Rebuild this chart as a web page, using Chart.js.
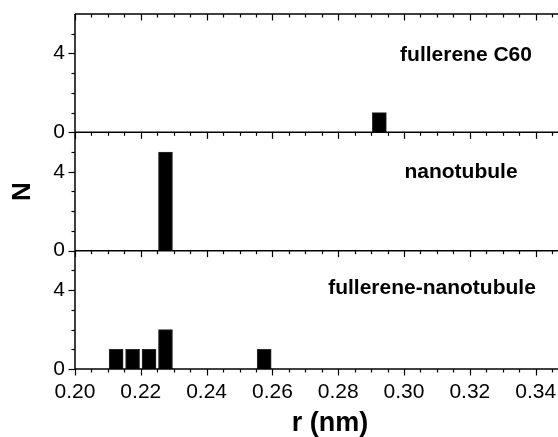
<!DOCTYPE html>
<html>
<head>
<meta charset="utf-8">
<script src="https://cdn.jsdelivr.net/npm/chart.js@4/dist/chart.umd.min.js"></script>
<style>
  html, body { margin: 0; padding: 0; background: #fff; overflow: hidden; }
</style>
</head>
<body>
<canvas id="hist" width="600" height="437"></canvas>
<script>
// bin centres (nm) and counts N, one list per panel
const c60R = [0.2925];
const c60N = [1];
const tubeR = [0.2275];
const tubeN = [5];
const mixR = [0.2125, 0.2175, 0.2225, 0.2275, 0.2575];
const mixN = [1, 1, 1, 2, 1];

const panelLabels = ['fullerene C60', 'nanotubule', 'fullerene-nanotubule'];
const xTicks = [0.20, 0.22, 0.24, 0.26, 0.28, 0.30, 0.32, 0.34];
const yTicks = [0, 4];
const yMinor = [1, 2, 3, 5];

const toPoints = (xs, ys) => xs.map((x, i) => ({ x: x, y: ys[i] }));

// label placement inside each panel: centre x (px), offset below panel top (px)
const labelPos = [[466, 41], [461, 40], [432, 38]];

const font = 'Liberation Sans, Arial, sans-serif';

const panelTicks = {
    id: 'panelTicks',
    afterDraw(chart) {
        const ctx = chart.ctx;
        const area = chart.chartArea;
        const xs = chart.scales.x;
        const panels = [chart.scales.y1, chart.scales.y2, chart.scales.y3];
        ctx.save();
        ctx.strokeStyle = '#000';

        // horizontal lines with downward ticks (panel tops and bottom axis)
        const lines = panels.map(p => p.top).concat([area.bottom]);
        lines.forEach(y => {
            ctx.lineWidth = 1.5;
            ctx.beginPath();
            ctx.moveTo(area.left, y);
            ctx.lineTo(area.right + 1, y);
            ctx.stroke();
            ctx.lineWidth = 1.2;
            for (let k = 0; k <= 40; k++) {
                const v = 0.20 + k * 0.005;
                if (v > xs.max + 1e-9) break;
                const px = Math.round(xs.getPixelForValue(v)) + 0.5;
                const len = (k % 4 === 0) ? 6.5 : 3.5;
                ctx.beginPath();
                ctx.moveTo(px, y);
                ctx.lineTo(px, y + len);
                ctx.stroke();
            }
        });

        // left axis line
        ctx.lineWidth = 1.5;
        ctx.beginPath();
        ctx.moveTo(area.left, area.top);
        ctx.lineTo(area.left, area.bottom);
        ctx.stroke();

        // y ticks pointing outward
        ctx.lineWidth = 1.2;
        panels.forEach(p => {
            yTicks.concat(yMinor).forEach(v => {
                const py = Math.round(p.getPixelForValue(v)) + 0.5;
                const len = yTicks.includes(v) ? 6.5 : 3.5;
                ctx.beginPath();
                ctx.moveTo(area.left, py);
                ctx.lineTo(area.left - len, py);
                ctx.stroke();
            });
        });

        // panel captions
        ctx.fillStyle = '#000';
        ctx.font = 'bold 21px ' + font;
        ctx.textAlign = 'center';
        ctx.textBaseline = 'middle';
        panels.forEach((p, i) => {
            ctx.fillText(panelLabels[i], labelPos[i][0], p.top + labelPos[i][1]);
        });
        ctx.restore();
    }
};

function yScale(title) {
    return {
        type: 'linear',
        position: 'left',
        stack: 'panels',
        stackWeight: 1,
        min: 0,
        max: 6,
        grid: { display: false, drawTicks: false },
        border: { display: false },
        afterBuildTicks: s => { s.ticks = yTicks.map(v => ({ value: v })); },
        afterFit: s => { s.width = 75; s.paddingTop = 0; s.paddingBottom = 0; },
        ticks: {
            color: '#000',
            padding: 10,
            font: { family: font, size: 21 }
        },
        title: {
            display: !!title,
            text: title,
            color: '#000',
            padding: { top: 10, bottom: 0 },
            font: { family: font, size: 26, weight: 'bold', lineHeight: 1 }
        }
    };
}

const ds = (id, xs, ys) => ({
    data: toPoints(xs, ys),
    yAxisID: id,
    backgroundColor: '#000',
    borderColor: '#2a2a2a',
    borderWidth: 1,
    barThickness: 14,
    grouped: false
});

new Chart(document.getElementById('hist'), {
    type: 'bar',
    data: {
        datasets: [
            ds('y3', mixR, mixN),
            ds('y2', tubeR, tubeN),
            ds('y1', c60R, c60N)
        ]
    },
    options: {
        responsive: false,
        animation: false,
        layout: { padding: { top: 14, right: 15, left: 0, bottom: 0 } },
        plugins: { legend: { display: false }, tooltip: { enabled: false } },
        scales: {
            x: {
                type: 'linear',
                min: 0.20,
                max: 0.355,
                offset: false,
                grid: { display: false, drawTicks: false },
                border: { display: false },
                afterBuildTicks: s => { s.ticks = xTicks.map(v => ({ value: v })); },
                afterFit: s => { s.height = 68; s.paddingLeft = 0; s.paddingRight = 0; },
                ticks: {
                    color: '#000',
                    padding: 11,
                    maxRotation: 0,
                    autoSkip: false,
                    font: { family: font, size: 21 },
                    callback: v => v.toFixed(2)
                },
                title: {
                    display: true,
                    text: 'r (nm)',
                    color: '#000',
                    padding: { top: 0, bottom: 0 },
                    font: { family: font, size: 27, weight: 'bold', lineHeight: 1 }
                }
            },
            y3: yScale(''),
            y2: yScale('N'),
            y1: yScale('')
        }
    },
    plugins: [panelTicks]
});
</script>
</body>
</html>
